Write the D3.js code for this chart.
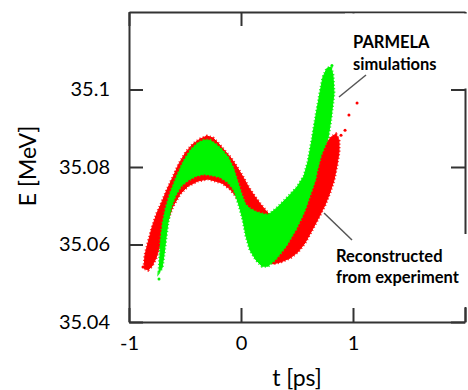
<!DOCTYPE html>
<html>
<head>
<meta charset="utf-8">
<script src="https://cdn.jsdelivr.net/npm/d3@7"></script>
<style>
  html, body { margin: 0; padding: 0; background: #fff; }
  svg { display: block; }
  text { font-family: Lato, "Open Sans", sans-serif; }
</style>
</head>
<body>
<svg id="chart" width="468" height="390"></svg>
<script>
// ---- Data (t [ps], E [MeV]) ----
const xTicks = [-1, 0, 1, 2];
const xTickLabels = ["-1", "0", "1", ""];
const yTicks = [35.04, 35.06, 35.08, 35.1];
const yTickLabels = ["35.04", "35.06", "35.08", "35.1"];

// Outline of the reconstructed (experiment) phase-space cloud
const reconstructedOutline = [
  [-0.866, 35.0539], [-0.857, 35.0573], [-0.830, 35.0604], [-0.795, 35.0643],
  [-0.750, 35.0681], [-0.705, 35.0710], [-0.661, 35.0741], [-0.607, 35.0774],
  [-0.554, 35.0808], [-0.491, 35.0839], [-0.429, 35.0859], [-0.366, 35.0872],
  [-0.304, 35.0880], [-0.250, 35.0875], [-0.196, 35.0859], [-0.143, 35.0841],
  [-0.089, 35.0823], [-0.036, 35.0800], [0.018, 35.0774], [0.071, 35.0746],
  [0.125, 35.0723], [0.179, 35.0702], [0.232, 35.0684], [0.286, 35.0668],
  [0.393, 35.0676], [0.482, 35.0702], [0.554, 35.0735], [0.616, 35.0779],
  [0.688, 35.0826], [0.750, 35.0857], [0.804, 35.0877], [0.848, 35.0885],
  [0.875, 35.0870], [0.875, 35.0839], [0.857, 35.0805], [0.830, 35.0766],
  [0.795, 35.0735], [0.750, 35.0702], [0.696, 35.0671], [0.634, 35.0637],
  [0.571, 35.0604], [0.509, 35.0581], [0.438, 35.0565], [0.357, 35.0555],
  [0.286, 35.0550], [0.188, 35.0565], [0.098, 35.0612], [0.045, 35.0658],
  [0.000, 35.0702], [-0.045, 35.0725], [-0.098, 35.0743], [-0.170, 35.0759],
  [-0.295, 35.0769], [-0.384, 35.0764], [-0.473, 35.0751], [-0.545, 35.0730],
  [-0.607, 35.0699], [-0.661, 35.0658], [-0.696, 35.0624], [-0.732, 35.0591],
  [-0.759, 35.0565], [-0.795, 35.0544], [-0.830, 35.0534]
];
const reconstructedStray = [
  [1.036, 35.0965], [0.964, 35.0934], [0.929, 35.0895], [0.893, 35.0882],
  [-0.875, 35.0542]
];

// Outline of the PARMELA simulated phase-space cloud
const parmelaOutline = [
  [-0.732, 35.0529], [-0.723, 35.0573], [-0.714, 35.0617], [-0.696, 35.0658],
  [-0.670, 35.0694], [-0.634, 35.0730], [-0.571, 35.0777], [-0.509, 35.0816],
  [-0.446, 35.0845], [-0.384, 35.0862], [-0.330, 35.0869], [-0.277, 35.0869],
  [-0.223, 35.0858], [-0.170, 35.0844], [-0.116, 35.0825], [-0.071, 35.0798],
  [-0.036, 35.0766], [0.000, 35.0733], [0.036, 35.0704], [0.080, 35.0692],
  [0.134, 35.0684], [0.188, 35.0679], [0.241, 35.0676], [0.286, 35.0686],
  [0.330, 35.0697], [0.420, 35.0723], [0.500, 35.0748], [0.563, 35.0777],
  [0.598, 35.0813], [0.634, 35.0870], [0.670, 35.0934], [0.705, 35.0991],
  [0.732, 35.1032], [0.768, 35.1055], [0.804, 35.1058], [0.821, 35.1037],
  [0.830, 35.0991], [0.804, 35.0926], [0.777, 35.0875], [0.714, 35.0831],
  [0.679, 35.0792], [0.661, 35.0766], [0.616, 35.0728], [0.563, 35.0684],
  [0.491, 35.0640], [0.402, 35.0596], [0.313, 35.0563], [0.241, 35.0544],
  [0.188, 35.0544], [0.134, 35.0560], [0.080, 35.0586], [0.045, 35.0622],
  [0.018, 35.0663], [-0.018, 35.0702], [-0.063, 35.0741], [-0.116, 35.0761],
  [-0.188, 35.0774], [-0.259, 35.0779], [-0.330, 35.0782], [-0.402, 35.0777],
  [-0.473, 35.0766], [-0.536, 35.0751], [-0.589, 35.0725], [-0.625, 35.0694],
  [-0.652, 35.0658], [-0.670, 35.0617], [-0.688, 35.0573], [-0.705, 35.0539]
];
const parmelaStray = [
  [-0.732, 35.0511], [0.812, 35.1062]
];

// ---- Chart ----
const svg = d3.select("#chart");
const x = d3.scaleLinear().domain([-1, 2]).range([129, 465]);
const y = d3.scaleLinear().domain([35.04, 35.12]).range([322, 12]);

const RED = "#ff0000", GREEN = "#00f500", AXIS = "#333";

const line = d3.line().x(d => x(d[0])).y(d => y(d[1])).curve(d3.curveLinearClosed);

function cloud(outline, color) {
  svg.append("path").datum(outline).attr("d", line)
    .attr("fill", color).attr("stroke", color).attr("stroke-width", 1)
    .attr("stroke-linejoin", "round");
  // speckled fringe of the scatter cloud
  svg.append("path").datum(outline).attr("d", line)
    .attr("fill", "none").attr("stroke", color).attr("stroke-width", 3)
    .attr("stroke-dasharray", "1.2 2.3").attr("opacity", 0.85);
}
cloud(reconstructedOutline, RED);
cloud(parmelaOutline, GREEN);

svg.selectAll("circle.rs").data(reconstructedStray).join("circle")
  .attr("class", "rs").attr("cx", d => x(d[0])).attr("cy", d => y(d[1]))
  .attr("r", 1.5).attr("fill", RED);
svg.selectAll("circle.ps").data(parmelaStray).join("circle")
  .attr("class", "ps").attr("cx", d => x(d[0])).attr("cy", d => y(d[1]))
  .attr("r", 1.5).attr("fill", GREEN);

// axes / frame
function styleAxis(g) {
  g.selectAll("path.domain").attr("stroke", AXIS).attr("stroke-width", 2);
  g.selectAll(".tick line").attr("stroke", AXIS).attr("stroke-width", 2);
  g.selectAll(".tick text").attr("fill", "#000")
    .style("font-family", "Lato, 'Open Sans', sans-serif").style("font-size", "20px");
}
const gLeft = svg.append("g").attr("transform", `translate(${x(-1)},0)`)
  .call(d3.axisLeft(y).tickValues(yTicks).tickSizeInner(-14).tickSizeOuter(0)
    .tickPadding(19).tickFormat((d, i) => yTickLabels[i]));
styleAxis(gLeft);
const gBottom = svg.append("g").attr("transform", `translate(0,${y(35.04)})`)
  .call(d3.axisBottom(x).tickValues(xTicks).tickSizeInner(-14).tickSizeOuter(0)
    .tickPadding(14).tickFormat((d, i) => xTickLabels[i]));
styleAxis(gBottom);
const gTop = svg.append("g").attr("transform", `translate(0,${y(35.12)})`)
  .call(d3.axisTop(x).tickValues(xTicks).tickSizeInner(-14).tickSizeOuter(0).tickFormat(""));
styleAxis(gTop);
const gRight = svg.append("g").attr("transform", `translate(${x(2)},0)`)
  .call(d3.axisRight(y).tickValues(yTicks).tickSizeInner(-14).tickSizeOuter(0).tickFormat(""));
styleAxis(gRight);

// annotation boxes (white background covering the frame)
svg.append("rect").attr("x", 345).attr("y", 13.5).attr("width", 125).attr("height", 75)
  .attr("fill", "#fff");
svg.append("rect").attr("x", 330).attr("y", 234).attr("width", 140).attr("height", 73)
  .attr("fill", "#fff");

// leader lines
svg.append("line").attr("x1", 339).attr("y1", 97).attr("x2", 366).attr("y2", 75)
  .attr("stroke", "#555").attr("stroke-width", 1.5);
svg.append("line").attr("x1", 324).attr("y1", 213).attr("x2", 352).attr("y2", 240)
  .attr("stroke", "#555").attr("stroke-width", 1.5);

// annotation text
const ann = svg.append("g").attr("font-weight", "bold").attr("font-size", 16.5).attr("fill", "#000");
ann.append("text").attr("x", 353).attr("y", 48).text("PARMELA");
ann.append("text").attr("x", 353).attr("y", 70).text("simulations");
ann.append("text").attr("x", 336).attr("y", 262).text("Reconstructed");
ann.append("text").attr("x", 336).attr("y", 283).text("from experiment");

// axis titles
svg.append("text").attr("transform", "translate(36,166) rotate(-90)")
  .attr("text-anchor", "middle").attr("font-size", 23).attr("fill", "#000").text("E [MeV]");
svg.append("text").attr("x", 297).attr("y", 386)
  .attr("text-anchor", "middle").attr("font-size", 23).attr("fill", "#000").text("t [ps]");
</script>
</body>
</html>
